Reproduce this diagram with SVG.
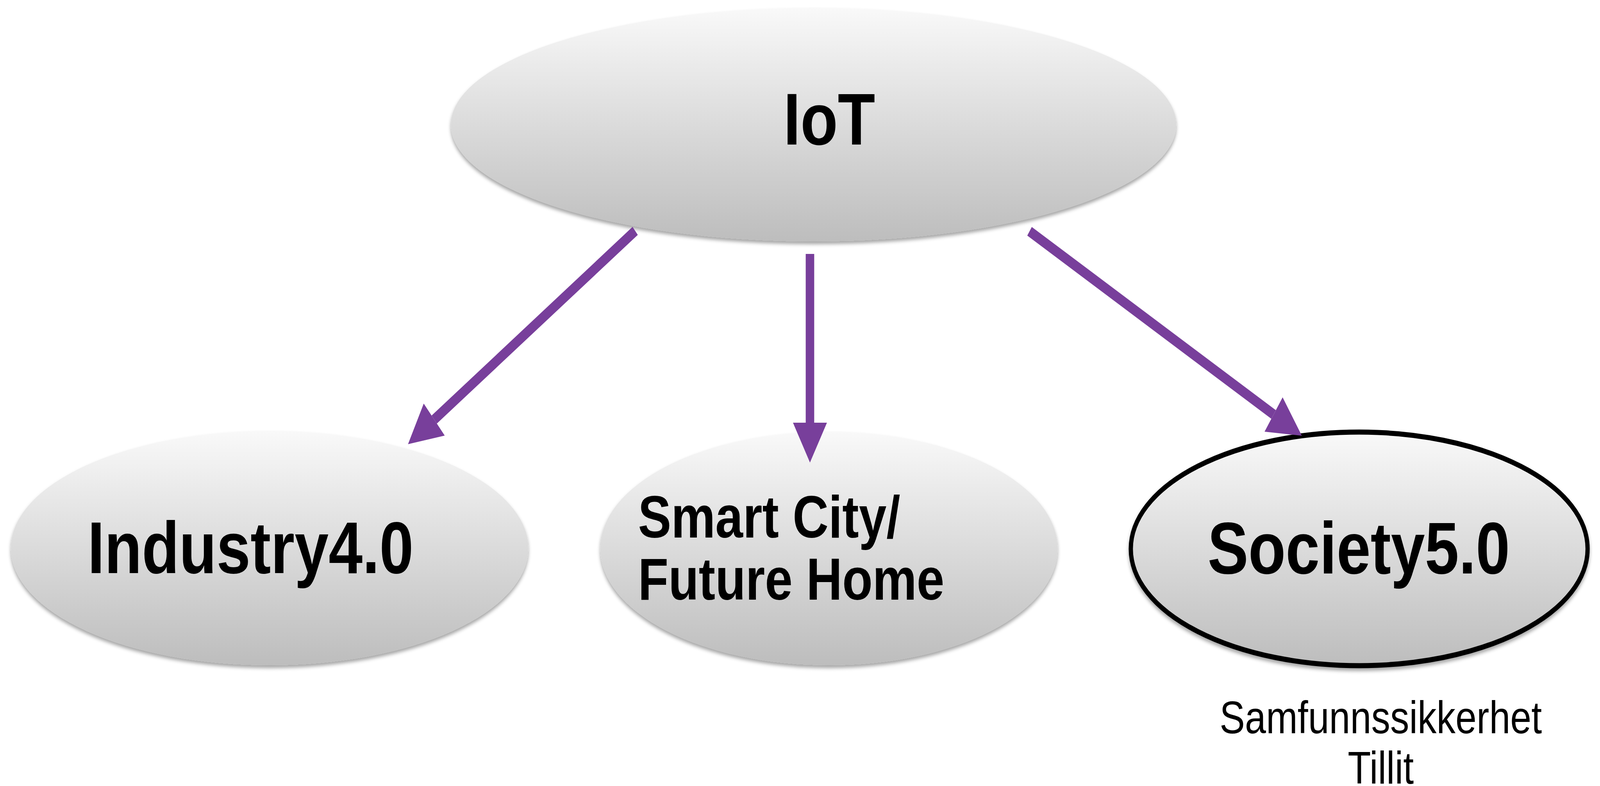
<svg xmlns="http://www.w3.org/2000/svg" width="4897" height="2012" viewBox="0 0 4897 2012" preserveAspectRatio="none">
<style>
@media (max-width:4896px){svg{width:100vw;height:100vh}}
.node{fill:url(#g);filter:url(#sh)}
.bold{font-family:"Liberation Sans",Arial,sans-serif;font-weight:bold;fill:#000}
.reg{font-family:"Liberation Sans",Arial,sans-serif;fill:#000}
.conn{stroke:#783F9B;stroke-width:26;fill:none;marker-end:url(#ah)}
</style>
<defs>
<linearGradient id="g" x1="0" y1="0" x2="0" y2="1">
<stop offset="0" stop-color="#f9f9f9"/>
<stop offset="1" stop-color="#bdbdbd"/>
</linearGradient>
<filter id="sh" x="-10%" y="-10%" width="120%" height="130%">
<feDropShadow dx="0" dy="7" stdDeviation="5" flood-color="#000" flood-opacity="0.35"/>
</filter>
<marker id="ah" markerUnits="userSpaceOnUse" markerWidth="104" markerHeight="104" refX="0" refY="52" orient="auto" overflow="visible">
<path d="M0,0 L102,52 L0,104 Z" fill="#783F9B"/>
</marker>
</defs>
<rect width="4897" height="2012" fill="#fff"/>
<g id="node-iot">
<ellipse class="node" cx="2490" cy="319" rx="1110" ry="299"/>
<text class="bold" x="2398" y="370" font-size="187">IoT</text>
</g>
<g id="node-industry">
<ellipse class="node" cx="825" cy="1403" rx="792" ry="300"/>
<text class="bold" x="268" y="1467" font-size="187">Industry4.0</text>
</g>
<g id="node-smartcity">
<ellipse class="node" cx="2537" cy="1404" rx="700" ry="299"/>
<text class="bold" font-size="152"><tspan x="1953" y="1376">Smart City/</tspan><tspan x="1953" y="1535">Future Home</tspan></text>
</g>
<g id="node-society">
<ellipse class="node" cx="4160" cy="1405" rx="699" ry="299" stroke="#000" stroke-width="13"/>
<text class="bold" x="3696" y="1468" font-size="187">Society5.0</text>
</g>
<g id="label-society">
<text class="reg" text-anchor="middle" font-size="116"><tspan x="4226" y="1877">Samfunnssikkerhet</tspan><tspan x="4226" y="2006">Tillit</tspan></text>
</g>
<g id="connectors">
<line class="conn" x1="1944" y1="591" x2="1329" y2="1074"/>
<line class="conn" x1="2479" y1="650" x2="2479" y2="1082"/>
<line class="conn" x1="3151" y1="592" x2="3898" y2="1061"/>
</g>
</svg>
